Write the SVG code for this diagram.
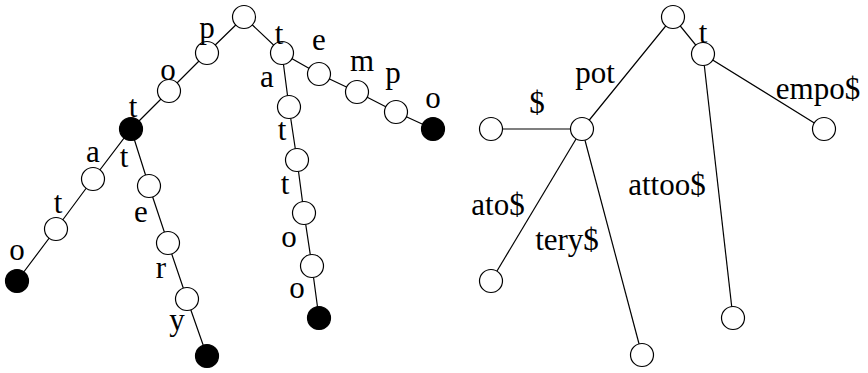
<svg xmlns="http://www.w3.org/2000/svg" width="868" height="373" viewBox="0 0 868 373" font-family="Liberation Serif, Times New Roman, serif" font-size="31" text-anchor="middle">
<style>
.e{stroke:#000;stroke-width:1.2;fill:none}
.n{fill:#fff;stroke:#000;stroke-width:1.2}
.f{fill:#000;stroke:#000;stroke-width:1.2}
</style>
<rect width="868" height="373" fill="#fff"/>
<g id="connectors">
<polyline class="e" points="244,17 207,53 169,91 131,129 93,179 56,229 17,281"/>
<polyline class="e" points="131,129 149,186 168,243 187,299 207,356"/>
<polyline class="e" points="244,17 282,53 319,74 357,92 396,112 433,129"/>
<polyline class="e" points="282,53 289,107 297,160 304,213 312,266 319,318"/>
<polyline class="e" points="582,129 673,17 703,54 824,129"/>
<line class="e" x1="703" y1="54" x2="733" y2="318"/>
<line class="e" x1="582" y1="129" x2="491" y2="129"/>
<line class="e" x1="582" y1="129" x2="491" y2="281"/>
<line class="e" x1="582" y1="129" x2="642" y2="355"/>
</g>
<g id="trie-root"><circle class="n" cx="244" cy="17" r="11.5"/></g>
<g id="trie-p"><circle class="n" cx="207" cy="53" r="11.5"/><text x="207" y="38">p</text></g>
<g id="trie-po"><circle class="n" cx="169" cy="91" r="11.5"/><text x="168" y="80">o</text></g>
<g id="trie-pot"><circle class="f" cx="131" cy="129" r="11.5"/><text x="133" y="117">t</text></g>
<g id="trie-pota"><circle class="n" cx="93" cy="179" r="11.5"/><text x="93" y="162">a</text></g>
<g id="trie-potat"><circle class="n" cx="56" cy="229" r="11.5"/><text x="58" y="213">t</text></g>
<g id="trie-potato"><circle class="f" cx="17" cy="281" r="11.5"/><text x="17" y="260">o</text></g>
<g id="trie-pott"><circle class="n" cx="149" cy="186" r="11.5"/><text x="124" y="167">t</text></g>
<g id="trie-potte"><circle class="n" cx="168" cy="243" r="11.5"/><text x="141" y="222">e</text></g>
<g id="trie-potter"><circle class="n" cx="187" cy="299" r="11.5"/><text x="161" y="278">r</text></g>
<g id="trie-pottery"><circle class="f" cx="207" cy="356" r="11.5"/><text x="177" y="330">y</text></g>
<g id="trie-t"><circle class="n" cx="282" cy="53" r="11.5"/><text x="279" y="44">t</text></g>
<g id="trie-te"><circle class="n" cx="319" cy="74" r="11.5"/><text x="319" y="50">e</text></g>
<g id="trie-tem"><circle class="n" cx="357" cy="92" r="11.5"/><text x="362" y="71">m</text></g>
<g id="trie-temp"><circle class="n" cx="396" cy="112" r="11.5"/><text x="393" y="83">p</text></g>
<g id="trie-tempo"><circle class="f" cx="433" cy="129" r="11.5"/><text x="433" y="108">o</text></g>
<g id="trie-ta"><circle class="n" cx="289" cy="107" r="11.5"/><text x="267" y="87">a</text></g>
<g id="trie-tat"><circle class="n" cx="297" cy="160" r="11.5"/><text x="282" y="140">t</text></g>
<g id="trie-tatt"><circle class="n" cx="304" cy="213" r="11.5"/><text x="285" y="194">t</text></g>
<g id="trie-tatto"><circle class="n" cx="312" cy="266" r="11.5"/><text x="289" y="247">o</text></g>
<g id="trie-tattoo"><circle class="f" cx="319" cy="318" r="11.5"/><text x="297" y="298">o</text></g>
<g id="st-root"><circle class="n" cx="673" cy="17" r="11.5"/></g>
<g id="st-pot"><circle class="n" cx="582" cy="129" r="11.5"/><text x="595" y="83">pot</text></g>
<g id="st-dollar"><circle class="n" cx="491" cy="129" r="11.5"/><text x="537" y="113">$</text></g>
<g id="st-ato"><circle class="n" cx="491" cy="281" r="11.5"/><text x="498" y="215">ato$</text></g>
<g id="st-tery"><circle class="n" cx="642" cy="355" r="11.5"/><text x="567" y="250">tery$</text></g>
<g id="st-t"><circle class="n" cx="703" cy="54" r="11.5"/><text x="703" y="43">t</text></g>
<g id="st-empo"><circle class="n" cx="824" cy="129" r="11.5"/><text x="818" y="99">empo$</text></g>
<g id="st-attoo"><circle class="n" cx="733" cy="318" r="11.5"/><text x="667" y="195">attoo$</text></g>
</svg>
